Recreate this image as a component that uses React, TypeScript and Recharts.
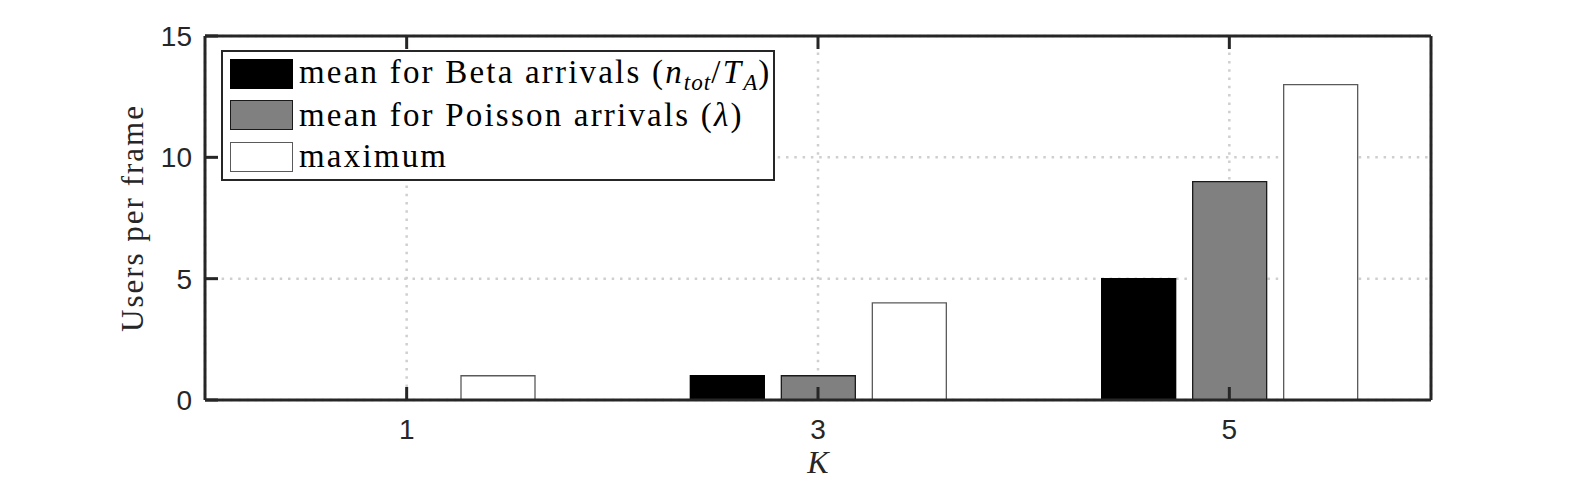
import { Bar, BarChart, CartesianGrid, XAxis, YAxis } from 'recharts';

const categories = ['1', '3', '5'];
const betaMean = [0, 1, 5];
const poissonMean = [0, 1, 9];
const maximum = [1, 4, 13];
const yTicks = [0, 5, 10, 15];

const data = categories.map((k, i) => ({
  k,
  beta: betaMean[i],
  poisson: poissonMean[i],
  max: maximum[i],
}));

const AXIS = '#262626';
const GRID = '#cfcfcf';
const SERIF = '"Liberation Serif", "DejaVu Serif", serif';
const SANS = '"Liberation Sans", Arial, sans-serif';
const TICK = 13;

const series = [
  { key: 'beta', fill: '#000000', stroke: '#000000' },
  { key: 'poisson', fill: '#808080', stroke: '#1a1a1a' },
  { key: 'max', fill: '#ffffff', stroke: '#5a5a5a' },
];

const legendLabels = [
  <>
    mean for Beta arrivals (<i>n</i>
    <Sub>tot</Sub>/<i>T</i>
    <Sub>A</Sub>)
  </>,
  <>
    mean for Poisson arrivals (<i>λ</i>)
  </>,
  <>maximum</>,
];

function Sub({ children }: { children: React.ReactNode }) {
  return (
    <i style={{ fontSize: '0.7em', position: 'relative', top: '0.3em', letterSpacing: 1 }}>{children}</i>
  );
}

function LeftTick({ x, y, payload }: any) {
  const ax = x + 13;
  return (
    <g>
      <line x1={ax} x2={ax + TICK} y1={y} y2={y} stroke={AXIS} strokeWidth={3} />
      <text x={x} y={y} dy={10} textAnchor="end" fontFamily={SANS} fontSize={28} fill={AXIS}>
        {payload.value}
      </text>
    </g>
  );
}

function RightTick({ x, y }: any) {
  return <line x1={x} x2={x - TICK} y1={y} y2={y} stroke={AXIS} strokeWidth={3} />;
}

function BottomTick({ x, y, payload }: any) {
  return (
    <g>
      <line x1={x} x2={x} y1={y} y2={y - TICK} stroke={AXIS} strokeWidth={3} />
      <text x={x} y={y + 39} textAnchor="middle" fontFamily={SANS} fontSize={28} fill={AXIS}>
        {payload.value}
      </text>
    </g>
  );
}

function TopTick({ x, y }: any) {
  return <line x1={x} x2={x} y1={y} y2={y + TICK} stroke={AXIS} strokeWidth={3} />;
}

function YLabel({ viewBox }: any) {
  const cx = viewBox.x - 2;
  const cy = viewBox.y + viewBox.height / 2;
  return (
    <text
      x={cx}
      y={cy}
      transform={`rotate(-90, ${cx}, ${cy})`}
      textAnchor="middle"
      fontFamily={SERIF}
      fontSize={31}
      letterSpacing={2}
      fill={AXIS}
    >
      Users per frame
    </text>
  );
}

function XLabel({ viewBox }: any) {
  return (
    <text
      x={viewBox.x + viewBox.width / 2}
      y={viewBox.y + 73}
      textAnchor="middle"
      fontFamily={SERIF}
      fontStyle="italic"
      fontSize={32}
      fill={AXIS}
    >
      K
    </text>
  );
}

export default function App() {
  return (
    <div style={{ position: 'absolute', left: 0, top: 0, width: 1582, height: 486, background: '#fff' }}>
      <BarChart
        width={1582}
        height={486}
        data={data}
        margin={{ top: 26, right: 141, left: 145, bottom: 36 }}
        barSize={74}
        barGap={17}
      >
        <CartesianGrid stroke={GRID} strokeWidth={2.5} strokeDasharray="2.5 5.8" />
        <XAxis
          dataKey="k"
          height={50}
          padding={{ left: -4, right: -4 }}
          axisLine={{ stroke: AXIS, strokeWidth: 3 }}
          tickLine={false}
          tickSize={0}
          tickMargin={0}
          tick={<BottomTick />}
          label={<XLabel />}
        />
        <XAxis
          xAxisId="top"
          orientation="top"
          dataKey="k"
          height={10}
          padding={{ left: -4, right: -4 }}
          axisLine={{ stroke: AXIS, strokeWidth: 3 }}
          tickLine={false}
          tickSize={0}
          tickMargin={0}
          tick={<TopTick />}
        />
        <YAxis
          width={60}
          domain={[0, 15]}
          ticks={yTicks}
          interval={0}
          axisLine={{ stroke: AXIS, strokeWidth: 3 }}
          tickLine={false}
          tickSize={0}
          tickMargin={13}
          tick={<LeftTick />}
          label={<YLabel />}
        />
        <YAxis
          yAxisId="right"
          orientation="right"
          width={10}
          domain={[0, 15]}
          ticks={yTicks}
          interval={0}
          axisLine={{ stroke: AXIS, strokeWidth: 3 }}
          tickLine={false}
          tickSize={0}
          tickMargin={0}
          tick={<RightTick />}
        />
        {series.map((s) => (
          <Bar
            key={s.key}
            dataKey={s.key}
            fill={s.fill}
            stroke={s.stroke}
            strokeWidth={1.3}
            isAnimationActive={false}
          />
        ))}
      </BarChart>
      <div
        style={{
          position: 'absolute',
          left: 221,
          top: 50,
          width: 554,
          height: 131,
          boxSizing: 'border-box',
          border: `2px solid ${AXIS}`,
          background: '#fff',
          paddingTop: 1,
          paddingLeft: 7,
          fontFamily: SERIF,
          fontSize: 33,
          letterSpacing: 2.2,
          color: '#000',
        }}
      >
        {series.map((s, i) => (
          <div key={s.key} style={{ display: 'flex', alignItems: 'center', height: 41.5 }}>
            <div
              style={{
                width: 63,
                height: 30,
                boxSizing: 'border-box',
                background: s.fill,
                border: `1.5px solid ${s.stroke}`,
                flex: 'none',
              }}
            />
            <span style={{ marginLeft: 6, whiteSpace: 'nowrap', lineHeight: '41px' }}>{legendLabels[i]}</span>
          </div>
        ))}
      </div>
    </div>
  );
}
